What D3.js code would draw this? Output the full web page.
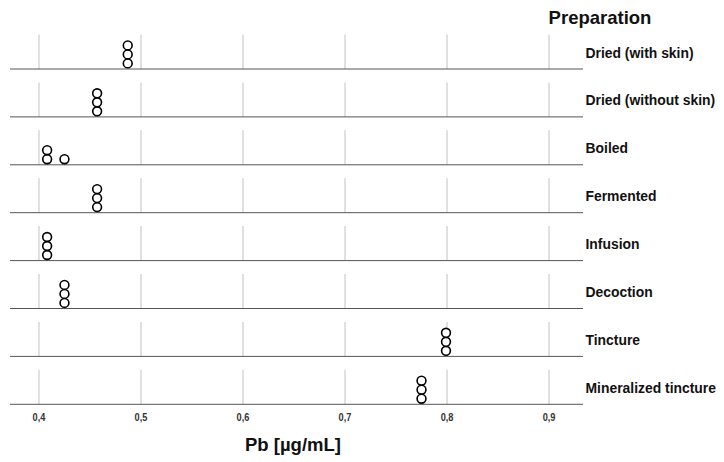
<!DOCTYPE html>
<html>
<head>
<meta charset="utf-8">
<script src="https://d3js.org/d3.v7.min.js"></script>
<style>
  body { margin: 0; background: #fff; }
  text { font-family: "Liberation Sans", Arial, sans-serif; }
</style>
</head>
<body>
<div id="chart"></div>
<script>
// preparation categories, top to bottom
var categories = ["Dried (with skin)", "Dried (without skin)", "Boiled", "Fermented",
                  "Infusion", "Decoction", "Tincture", "Mineralized tincture"];

// Pb measurements (three replicates per preparation)
var pbValues = [
  [0.487, 0.487, 0.487],
  [0.457, 0.457, 0.457],
  [0.408, 0.408, 0.425],
  [0.457, 0.457, 0.457],
  [0.408, 0.408, 0.408],
  [0.425, 0.425, 0.425],
  [0.799, 0.799, 0.799],
  [0.775, 0.775, 0.775]
];

var xTicks = [0.4, 0.5, 0.6, 0.7, 0.8, 0.9];

var width = 724, height = 462;

var svg = d3.select("#chart").append("svg")
    .attr("width", width)
    .attr("height", height);

var x = d3.scaleLinear().domain([0.3716, 0.9333]).range([10, 583]);
var band = d3.scaleBand().domain(categories).range([21.1, 404.3]).paddingInner(0);
var stack = d3.scaleLinear().domain([0, 1]).range([5.6, 14.6]); // distance above baseline

var gridH = 34.5;

var panels = svg.selectAll(".panel")
    .data(categories)
    .enter().append("g")
    .attr("class", "panel")
    .attr("transform", function (d) { return "translate(0," + (band(d) + band.step()) + ")"; });

// vertical grid lines in each panel
panels.selectAll(".grid")
    .data(xTicks)
    .enter().append("line")
    .attr("x1", function (d) { return x(d); })
    .attr("x2", function (d) { return x(d); })
    .attr("y1", -gridH)
    .attr("y2", 0)
    .attr("stroke", "#d0d0d0")
    .attr("stroke-width", 1.3);

// baseline
panels.append("line")
    .attr("x1", x.range()[0])
    .attr("x2", x.range()[1])
    .attr("y1", 0)
    .attr("y2", 0)
    .attr("stroke", "#555")
    .attr("stroke-width", 1);

// category labels
panels.append("text")
    .attr("x", 585.5)
    .attr("y", -11.5)
    .style("font-size", "13.9px")
    .style("font-weight", "bold")
    .style("fill", "#111")
    .text(function (d) { return d; });

// stacked dots
panels.each(function (cat, ci) {
  var counts = {};
  var dots = pbValues[ci].map(function (v) {
    var key = v.toFixed(3);
    counts[key] = (counts[key] || 0);
    var k = counts[key]++;
    return { v: v, k: k };
  });
  d3.select(this).selectAll(".dot")
    .data(dots)
    .enter().append("circle")
    .attr("class", "dot")
    .attr("cx", function (d) { return x(d.v); })
    .attr("cy", function (d) { return -stack(d.k); })
    .attr("r", 4.4)
    .attr("fill", "#fff")
    .attr("stroke", "#000")
    .attr("stroke-width", 1.6);
});

// x tick labels (condensed look)
var comma = d3.format(".1f");
svg.append("g").selectAll("text")
    .data(xTicks)
    .enter().append("text")
    .attr("transform", function (d) { return "translate(" + x(d) + ",420.5) scale(0.8,1)"; })
    .attr("text-anchor", "middle")
    .style("font-size", "11.5px")
    .style("font-weight", "bold")
    .style("fill", "#333")
    .text(function (d) { return comma(d).replace(".", ","); });

// axis title
svg.append("text")
    .attr("x", 293)
    .attr("y", 451)
    .attr("text-anchor", "middle")
    .style("font-size", "18.5px")
    .style("font-weight", "bold")
    .style("fill", "#111")
    .text("Pb [µg/mL]");

// legend title
svg.append("text")
    .attr("x", 600)
    .attr("y", 24)
    .attr("text-anchor", "middle")
    .style("font-size", "18.5px")
    .style("font-weight", "bold")
    .style("fill", "#111")
    .text("Preparation");
</script>
</body>
</html>
